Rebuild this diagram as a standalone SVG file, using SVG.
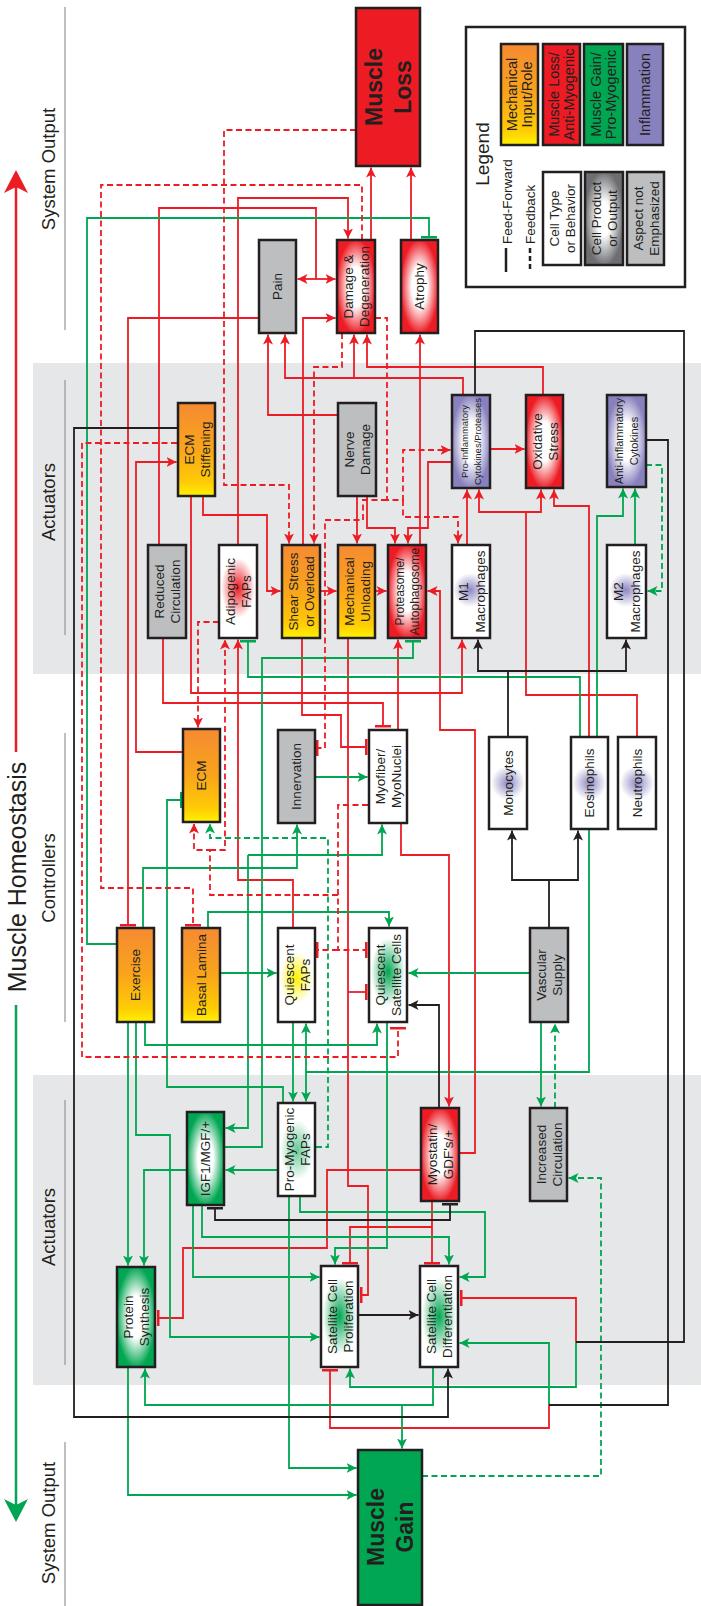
<svg xmlns="http://www.w3.org/2000/svg" width="701" height="1606" viewBox="0 0 701 1606">
<style>
.n{stroke:#231f20;stroke-width:2.5}
.t{font-family:"Liberation Sans",Arial,sans-serif;font-size:13.5px;fill:#231f20;text-anchor:middle;dominant-baseline:central}
.big{font-size:23px;font-weight:bold}
.sec{font-family:"Liberation Sans",Arial,sans-serif;font-size:18.5px;fill:#231f20;text-anchor:middle;dominant-baseline:central}
.c{fill:none;stroke-width:1.8}
.r{stroke:#ed1c24}
.g{stroke:#00a651}
.k{stroke:#231f20}
.d{stroke-dasharray:6 3.5}
.ar{marker-end:url(#ar)}
.ag{marker-end:url(#ag)}
.ak{marker-end:url(#ak)}
.tr{marker-end:url(#tr)}
.tg{marker-end:url(#tg)}
.sep{stroke:#939598;stroke-width:1.2}
</style>
<defs>
<marker id="ar" viewBox="0 0 10 10" refX="10" refY="5" markerWidth="10" markerHeight="10" markerUnits="userSpaceOnUse" orient="auto"><path d="M0,0 L10,5 L0,10 L2.5,5 z" fill="#ed1c24"/></marker>
<marker id="ag" viewBox="0 0 10 10" refX="10" refY="5" markerWidth="10" markerHeight="10" markerUnits="userSpaceOnUse" orient="auto"><path d="M0,0 L10,5 L0,10 L2.5,5 z" fill="#00a651"/></marker>
<marker id="ak" viewBox="0 0 10 10" refX="10" refY="5" markerWidth="10" markerHeight="10" markerUnits="userSpaceOnUse" orient="auto"><path d="M0,0 L10,5 L0,10 L2.5,5 z" fill="#231f20"/></marker>
<marker id="tr" viewBox="0 0 3 16" refX="1.5" refY="8" markerWidth="3" markerHeight="16" markerUnits="userSpaceOnUse" orient="auto"><rect width="3" height="16" fill="#ed1c24"/></marker>
<marker id="tg" viewBox="0 0 3 16" refX="1.5" refY="8" markerWidth="3" markerHeight="16" markerUnits="userSpaceOnUse" orient="auto"><rect width="3" height="16" fill="#00a651"/></marker>
<marker id="tk" viewBox="0 0 3 16" refX="1.5" refY="8" markerWidth="3" markerHeight="16" markerUnits="userSpaceOnUse" orient="auto"><rect width="3" height="16" fill="#231f20"/></marker>
<linearGradient id="mech" x1="0" y1="0" x2="0" y2="1"><stop offset="0" stop-color="#f58a32"/><stop offset=".5" stop-color="#f9a51b"/><stop offset=".85" stop-color="#ffcb05"/><stop offset="1" stop-color="#fff200"/></linearGradient>
<radialGradient id="rgRed" cx=".5" cy=".5" r=".6"><stop offset="0" stop-color="#fff"/><stop offset=".35" stop-color="#fff"/><stop offset=".85" stop-color="#ed1c24"/></radialGradient>
<radialGradient id="rgGreen" cx=".5" cy=".5" r=".6"><stop offset="0" stop-color="#fff"/><stop offset=".35" stop-color="#fff"/><stop offset=".85" stop-color="#00a651"/></radialGradient>
<radialGradient id="rgPurple" cx=".5" cy=".5" r=".6"><stop offset="0" stop-color="#fff"/><stop offset=".35" stop-color="#fff"/><stop offset=".85" stop-color="#8781bd"/></radialGradient>
<radialGradient id="rgGray" cx=".5" cy=".5" r=".6"><stop offset="0" stop-color="#fff"/><stop offset=".3" stop-color="#fff"/><stop offset=".85" stop-color="#6d6e71"/></radialGradient>
<radialGradient id="glP"><stop offset="0" stop-color="#8781bd" stop-opacity=".95"/><stop offset="1" stop-color="#8781bd" stop-opacity="0"/></radialGradient>
<radialGradient id="glG"><stop offset="0" stop-color="#00a651" stop-opacity="1"/><stop offset="1" stop-color="#00a651" stop-opacity="0"/></radialGradient>
<radialGradient id="glGl"><stop offset="0" stop-color="#00a651" stop-opacity=".6"/><stop offset="1" stop-color="#00a651" stop-opacity="0"/></radialGradient>
<radialGradient id="glR"><stop offset="0" stop-color="#ed1c24" stop-opacity="1"/><stop offset="1" stop-color="#ed1c24" stop-opacity="0"/></radialGradient>
<radialGradient id="glY"><stop offset="0" stop-color="#fff200" stop-opacity="1"/><stop offset="1" stop-color="#fff200" stop-opacity="0"/></radialGradient>
</defs>
<rect width="701" height="1606" fill="#fff"/>
<g id="bands">
<rect x="33" y="363" width="668" height="311" fill="#e6e7e8"/>
<rect x="33" y="1075" width="668" height="310" fill="#e6e7e8"/>
</g>
<g id="sections">
<path class="sep" d="M65,7 V330 M65,380 V635 M65,733 V1022 M65,1100 V1365 M65,1442 V1606"/>
<text class="sec" transform="translate(48,169) rotate(-90)">System Output</text>
<text class="sec" transform="translate(48,502) rotate(-90)">Actuators</text>
<text class="sec" transform="translate(48,878) rotate(-90)">Controllers</text>
<text class="sec" transform="translate(48,1227) rotate(-90)">Actuators</text>
<text class="sec" transform="translate(48,1523) rotate(-90)">System Output</text>
<text class="sec" style="font-size:25px" transform="translate(16.5,877) rotate(-90)">Muscle Homeostasis</text>
<path d="M16,752 V186" stroke="#ed1c24" stroke-width="2.5"/>
<polygon points="16,170 28,193 16,187 4,193" fill="#ed1c24"/>
<path d="M16,1005 V1506" stroke="#00a651" stroke-width="2.5"/>
<polygon points="16,1522 28,1499 16,1505 4,1499" fill="#00a651"/>
</g>
<g id="connectors">
<!-- red solid -->
<path class="c r ar" d="M238,545 V198 H348 V238.5"/>
<path class="c r" d="M159,545 V208 H316 V279"/>
<path class="c r ar" d="M316,279 H297.5"/>
<path class="c r ar" d="M316,279 H335.5"/>
<path class="c r tr" d="M259,318 H128 V925"/>
<path class="c r ar" d="M303,545 V318 H335.5"/>
<path class="c r ar" d="M338,415 H268 V334.5"/>
<path class="c r ar" d="M463,395 V378 H285 V334.5"/>
<path class="c r ar" d="M354,378 V334.5"/>
<path class="c r ar" d="M543,395 V367 H367 V334.5"/>
<path class="c r ar" d="M371,240 V167.5"/>
<path class="c r ar" d="M411,240 V167.5"/>
<path class="c r ar" d="M420,545 V334.5"/>
<path class="c r ar" d="M183,752 H136 V462 H176.5"/>
<path class="c r ar" d="M203,496 V515 H267 V591 H280.5"/>
<path class="c r ar" d="M191,496 V693 H462 V639.5"/>
<path class="c r tr" d="M163,638 V703 H383 V726"/>
<path class="c r tr" d="M302,638 V715 H341 V747 H366"/>
<path class="c r ar" d="M320,591 H336.5"/>
<path class="c r ar" d="M375,591 H386.5"/>
<path class="c r ar" d="M357,496 V543.5"/>
<path class="c r ar" d="M367,496 V528 H395 V543.5"/>
<path class="c r ar" d="M452,462 H428 V528 H408 V543.5"/>
<path class="c r ar" d="M490,449 H524.5"/>
<path class="c r ar" d="M467,545 V489.5"/>
<path class="c r ar" d="M637,737 V695 H526 V512 H479 V489.5"/>
<path class="c r ar" d="M526,512 H541 V489.5"/>
<path class="c r ar" d="M589,737 V506 H554 V489.5"/>
<path class="c r ar" d="M398,730 V639.5"/>
<path class="c r ar" d="M459,1153 H475 V730 H440 V591 H427.5"/>
<path class="c r ar" d="M401,823 V855 H449 V1106.5"/>
<path class="c r ar" d="M293,928 V880 H238 V639.5"/>
<path class="c r tr" d="M421,1170 H327 V1248 H183 V1318 H158"/>
<path class="c r tr" d="M432,1201 V1263"/>
<path class="c r tr" d="M432,1227 H350 V1263"/>
<path class="c r tr" d="M348,638 V1186 H368 V1295 H361"/>
<path class="c r tr" d="M348,992 H366"/>
<path class="c r tr" d="M549,1405 V1428 H330 V1370"/>
<path class="c r tr" d="M576,1342 V1298 H461"/>
<!-- green solid -->
<path class="c g tg" d="M117,944 H87 V218 H429 V237"/>
<path class="c g ag" d="M143,928 V868 H297 V824.5"/>
<path class="c g ag" d="M208,928 V912 H389 V926.5"/>
<path class="c g ag" d="M220,973 H276.5"/>
<path class="c g ag" d="M315,777 H367.5"/>
<path class="c g ag" d="M248,855 H382 V824.5"/>
<path class="c g ag" d="M248,855 V1128 H225.5"/>
<path class="c g tg" d="M224,1147 H262 V658 H413 V641"/>
<path class="c g tg" d="M580,737 V677 H248 V641"/>
<path class="c g ag" d="M597,737 V516 H623 V488.5"/>
<path class="c g ag" d="M635,545 V488.5"/>
<path class="c g ag" d="M530,973 H408.5"/>
<path class="c g ag" d="M541,1022 V1106.5"/>
<path class="c g ag" d="M145,1022 V1045 H377 V1023.5"/>
<path class="c g ag" d="M128,1022 V1265.5"/>
<path class="c g ag" d="M136,1022 V1135 H170 V1337 H319.5"/>
<path class="c g ag" d="M187,1170 H144 V1265.5"/>
<path class="c g ag" d="M278,1170 H225.5"/>
<path class="c g ag" d="M293,1022 V1101.5"/>
<path class="c g" d="M589,829 V1072 H306"/>
<path class="c g ag" d="M306,1072 V1023.5"/>
<path class="c g ag" d="M306,1072 V1101.5"/>
<path class="c g tg" d="M283,1103 V1087 H167 V800 H181"/>
<path class="c g ag" d="M289,1196 V1468 H356.5"/>
<path class="c g ag" d="M300,1196 V1212 H485 V1277 H459.5"/>
<path class="c g ag" d="M193,1205 V1277 H319.5"/>
<path class="c g ag" d="M202,1205 V1237 H449 V1264.5"/>
<path class="c g ag" d="M387,1022 V1248 H335 V1264.5"/>
<path class="c g ag" d="M433,1367 V1405 H145 V1368.5"/>
<path class="c g ag" d="M402,1405 V1448.5"/>
<path class="c g ag" d="M128,1367 V1495 H356.5"/>
<path class="c g ag" d="M576,1342 V1387 H350 V1368.5"/>
<path class="c g ag" d="M549,1405 V1343 H459.5"/>
<!-- green dashed -->
<path class="c g d ag" d="M316,1147 H328 V838 H210 V823.5"/>
<path class="c g d ag" d="M422,1476 H601 V1178 H568.5"/>
<path class="c g d ag" d="M555,1108 V1023.5"/>
<path class="c g d ag" d="M646,465 H662 V591 H647.5"/>
<!-- red dashed -->
<path class="c r d ar" d="M356,130 H224 V485 H289 V543.5"/>
<path class="c r d tr" d="M362,240 V185 H101 V888 H193 V925"/>
<path class="c r d ar" d="M342,333 V367 H314 V543.5"/>
<path class="c r d ar" d="M375,318 H387 V500 H403 V450 H450.5"/>
<path class="c r d ar" d="M403,500 V517 H458 V543.5"/>
<path class="c r d tr" d="M387,500 H363 V520 H325 V748 H317"/>
<path class="c r d tr" d="M177,443 H82 V1057 H398 V1028"/>
<path class="c r d ar" d="M219,622 H198 V727.5"/>
<path class="c r d tr" d="M368,805 H338 V950 H366"/>
<path class="c r d tr" d="M338,950 H317"/>
<path class="c r d ar" d="M338,895 H210 V850 H194 V823.5"/>
<path class="c r d ar" d="M210,850 H225 V639.5"/>
<!-- black -->
<path class="c k ak" d="M177,428 H74 V1417 H448 V1368.5"/>
<path class="c k" d="M475,395 V331 H684 V1342 H576"/>
<path class="c k" d="M646,440 H668 V1405 H549"/>
<path class="c k ak" d="M508,737 V671 H478 V639.5"/>
<path class="c k ak" d="M508,671 H626 V639.5"/>
<path class="c k ak" d="M549,928 V880 H512 V830.5"/>
<path class="c k ak" d="M549,880 H578 V830.5"/>
<path class="c k ak" d="M439,1108 V1005 H408.5"/>
<path class="c k" d="M215,1208 V1220 H450 V1204" marker-start="url(#tk)" marker-end="url(#tk)"/>
<path class="c k ak" d="M358,1315 H418.5"/>
</g>
<g id="muscle-loss"><rect class="n" x="356" y="8" width="64" height="158" fill="#ed1c24"/><text class="t big" transform="translate(388,87) rotate(-90)"><tspan x="0" y="-14.5">Muscle</tspan><tspan x="0" y="14.5">Loss</tspan></text></g>
<g id="pain"><rect class="n" x="259" y="240" width="37" height="93" fill="#bcbec0"/><text class="t" transform="translate(277.5,286.5) rotate(-90)">Pain</text></g>
<g id="damage"><rect class="n" x="337" y="240" width="38" height="93" fill="url(#rgRed)"/><text class="t" transform="translate(356,286.5) rotate(-90)"><tspan x="0" y="-8">Damage &amp;</tspan><tspan x="0" y="8">Degeneration</tspan></text></g>
<g id="atrophy"><rect class="n" x="401" y="240" width="37" height="93" fill="url(#rgRed)"/><text class="t" transform="translate(419.5,286.5) rotate(-90)">Atrophy</text></g>
<g id="ecm-stiffening"><rect class="n" x="178" y="403" width="37" height="93" fill="url(#mech)"/><text class="t" transform="translate(196.5,449.5) rotate(-90)"><tspan x="0" y="-8">ECM</tspan><tspan x="0" y="8">Stiffening</tspan></text></g>
<g id="nerve-damage"><rect class="n" x="338" y="403" width="38" height="93" fill="#bcbec0"/><text class="t" transform="translate(357,449.5) rotate(-90)"><tspan x="0" y="-8">Nerve</tspan><tspan x="0" y="8">Damage</tspan></text></g>
<g id="pro-inflammatory"><rect class="n" x="452" y="395" width="38" height="93" fill="url(#rgPurple)"/><text class="t" style="font-size:9.5px" transform="translate(471,441.5) rotate(-90)"><tspan x="0" y="-7">Pro-Inflammatory</tspan><tspan x="0" y="6">Cytokines/Proteases</tspan></text></g>
<g id="oxidative-stress"><rect class="n" x="526" y="395" width="37" height="93" fill="url(#rgRed)"/><text class="t" transform="translate(544.5,441.5) rotate(-90)"><tspan x="0" y="-8">Oxidative</tspan><tspan x="0" y="8">Stress</tspan></text></g>
<g id="anti-inflammatory"><rect class="n" x="607" y="395" width="39" height="92" fill="url(#rgPurple)"/><text class="t" style="font-size:11px" transform="translate(626.5,441) rotate(-90)"><tspan x="0" y="-7.5">Anti-Inflammatory</tspan><tspan x="0" y="7.5">Cytokines</tspan></text></g>
<g id="reduced-circulation"><rect class="n" x="148" y="545" width="38" height="93" fill="#bcbec0"/><text class="t" transform="translate(167,591.5) rotate(-90)"><tspan x="0" y="-8">Reduced</tspan><tspan x="0" y="8">Circulation</tspan></text></g>
<g id="adipogenic-faps"><rect class="n" x="219" y="545" width="38" height="93" fill="#fff"/><ellipse cx="238" cy="588" rx="17" ry="30" fill="url(#glR)"/><text class="t" transform="translate(238,591.5) rotate(-90)"><tspan x="0" y="-8">Adipogenic</tspan><tspan x="0" y="8">FAPs</tspan></text></g>
<g id="shear-stress"><rect class="n" x="282" y="545" width="38" height="93" fill="url(#mech)"/><text class="t" transform="translate(301,591.5) rotate(-90)"><tspan x="0" y="-8">Shear Stress</tspan><tspan x="0" y="8">or Overload</tspan></text></g>
<g id="mechanical-unloading"><rect class="n" x="338" y="545" width="37" height="93" fill="url(#mech)"/><text class="t" transform="translate(356.5,591.5) rotate(-90)"><tspan x="0" y="-8">Mechanical</tspan><tspan x="0" y="8">Unloading</tspan></text></g>
<g id="proteasome"><rect class="n" x="388" y="545" width="38" height="93" fill="url(#rgRed)"/><text class="t" style="font-size:12px" transform="translate(407,591.5) rotate(-90)"><tspan x="0" y="-7.5">Proteasome/</tspan><tspan x="0" y="7.5">Autophagosome</tspan></text></g>
<g id="m1-macrophages"><rect class="n" x="452" y="545" width="38" height="93" fill="#fff"/><circle cx="470" cy="590" r="17" fill="url(#glP)"/><text class="t" transform="translate(471,591.5) rotate(-90)"><tspan x="0" y="-8.5">M1</tspan><tspan x="0" y="8.5">Macrophages</tspan></text></g>
<g id="m2-macrophages"><rect class="n" x="607" y="545" width="39" height="93" fill="#fff"/><circle cx="626" cy="590" r="17" fill="url(#glP)"/><text class="t" transform="translate(626.5,591.5) rotate(-90)"><tspan x="0" y="-8.5">M2</tspan><tspan x="0" y="8.5">Macrophages</tspan></text></g>
<g id="ecm"><rect class="n" x="183" y="729" width="37" height="93" fill="url(#mech)"/><text class="t" transform="translate(201.5,775.5) rotate(-90)">ECM</text></g>
<g id="innervation"><rect class="n" x="278" y="730" width="37" height="93" fill="#bcbec0"/><text class="t" transform="translate(296.5,776.5) rotate(-90)">Innervation</text></g>
<g id="myofiber"><rect class="n" x="369" y="730" width="38" height="93" fill="#fff"/><text class="t" transform="translate(388,776.5) rotate(-90)"><tspan x="0" y="-8">Myofiber/</tspan><tspan x="0" y="8">MyoNuclei</tspan></text></g>
<g id="monocytes"><rect class="n" x="489" y="737" width="38" height="92" fill="#fff"/><circle cx="508" cy="783" r="17" fill="url(#glP)"/><text class="t" transform="translate(508,783) rotate(-90)">Monocytes</text></g>
<g id="eosinophils"><rect class="n" x="571" y="737" width="37" height="92" fill="#fff"/><circle cx="589.5" cy="783" r="17" fill="url(#glP)"/><text class="t" transform="translate(589.5,783) rotate(-90)">Eosinophils</text></g>
<g id="neutrophils"><rect class="n" x="618" y="737" width="38" height="92" fill="#fff"/><circle cx="637" cy="783" r="17" fill="url(#glP)"/><text class="t" transform="translate(637,783) rotate(-90)">Neutrophils</text></g>
<g id="exercise"><rect class="n" x="117" y="928" width="37" height="94" fill="url(#mech)"/><text class="t" transform="translate(135.5,975) rotate(-90)">Exercise</text></g>
<g id="basal-lamina"><rect class="n" x="182" y="928" width="38" height="94" fill="url(#mech)"/><text class="t" transform="translate(201,975) rotate(-90)">Basal Lamina</text></g>
<g id="quiescent-faps"><rect class="n" x="278" y="928" width="37" height="94" fill="#fff"/><ellipse cx="296.5" cy="978" rx="17" ry="26" fill="url(#glY)"/><text class="t" transform="translate(296.5,975) rotate(-90)"><tspan x="0" y="-8">Quiescent</tspan><tspan x="0" y="8">FAPs</tspan></text></g>
<g id="quiescent-satellite-cells"><rect class="n" x="369" y="928" width="38" height="94" fill="#fff"/><ellipse cx="388" cy="972" rx="17" ry="34" fill="url(#glG)"/><text class="t" transform="translate(388,975) rotate(-90)"><tspan x="0" y="-8">Quiescent</tspan><tspan x="0" y="8">Satellite Cells</tspan></text></g>
<g id="vascular-supply"><rect class="n" x="530" y="928" width="38" height="94" fill="#bcbec0"/><text class="t" transform="translate(549,975) rotate(-90)"><tspan x="0" y="-8">Vascular</tspan><tspan x="0" y="8">Supply</tspan></text></g>
<g id="igf1"><rect class="n" x="187" y="1112" width="37" height="93" fill="url(#rgGreen)"/><text class="t" transform="translate(205.5,1158.5) rotate(-90)">IGF1/MGF/+</text></g>
<g id="pro-myogenic-faps"><rect class="n" x="278" y="1103" width="37" height="93" fill="#fff"/><ellipse cx="297" cy="1150" rx="17" ry="30" fill="url(#glGl)"/><text class="t" transform="translate(296.5,1149.5) rotate(-90)"><tspan x="0" y="-8">Pro-Myogenic</tspan><tspan x="0" y="8">FAPs</tspan></text></g>
<g id="myostatin"><rect class="n" x="421" y="1108" width="38" height="93" fill="url(#rgRed)"/><text class="t" transform="translate(440,1154.5) rotate(-90)"><tspan x="0" y="-8">Myostatin/</tspan><tspan x="0" y="8">GDF's/+</tspan></text></g>
<g id="increased-circulation"><rect class="n" x="530" y="1108" width="37" height="93" fill="#bcbec0"/><text class="t" transform="translate(548.5,1154.5) rotate(-90)"><tspan x="0" y="-8">Increased</tspan><tspan x="0" y="8">Circulation</tspan></text></g>
<g id="protein-synthesis"><rect class="n" x="117" y="1267" width="38" height="100" fill="url(#rgGreen)"/><text class="t" transform="translate(136,1317) rotate(-90)"><tspan x="0" y="-8">Protein</tspan><tspan x="0" y="8">Synthesis</tspan></text></g>
<g id="satellite-cell-proliferation"><rect class="n" x="321" y="1266" width="37" height="101" fill="#fff"/><ellipse cx="339.5" cy="1316" rx="17" ry="38" fill="url(#glG)"/><text class="t" transform="translate(339.5,1316.5) rotate(-90)"><tspan x="0" y="-8">Satellite Cell</tspan><tspan x="0" y="8">Proliferation</tspan></text></g>
<g id="satellite-cell-differentiation"><rect class="n" x="420" y="1266" width="38" height="101" fill="#fff"/><ellipse cx="439" cy="1316" rx="17" ry="38" fill="url(#glG)"/><text class="t" transform="translate(439,1316.5) rotate(-90)"><tspan x="0" y="-8">Satellite Cell</tspan><tspan x="0" y="8">Differentiation</tspan></text></g>
<g id="muscle-gain"><rect class="n" x="358" y="1450" width="64" height="155" fill="#00a651"/><text class="t big" transform="translate(390,1527) rotate(-90)"><tspan x="0" y="-14.5">Muscle</tspan><tspan x="0" y="14.5">Gain</tspan></text></g>
<g id="legend">
<rect class="n" x="466" y="27" width="219" height="260" fill="#fff"/>
<text class="t" style="font-size:19px" transform="translate(482,154) rotate(-90)">Legend</text>
<path d="M506,248 V272" stroke="#231f20" stroke-width="2.5"/>
<path d="M530,248 V272" stroke="#231f20" stroke-width="2.5" stroke-dasharray="5 3"/>
<text class="t" style="text-anchor:start" transform="translate(507,244) rotate(-90)">Feed-Forward</text>
<text class="t" style="text-anchor:start" transform="translate(530,244) rotate(-90)">Feedback</text>
<rect class="n" x="501" y="44" width="37" height="101" fill="url(#mech)"/>
<text class="t" style="font-size:14.5px" transform="translate(519.5,94.5) rotate(-90)"><tspan x="0" y="-7.5">Mechanical</tspan><tspan x="0" y="7.5">Input/Role</tspan></text>
<rect class="n" x="543" y="44" width="37" height="101" fill="#ed1c24"/>
<text class="t" style="font-size:14.5px" transform="translate(561.5,94.5) rotate(-90)"><tspan x="0" y="-7.5">Muscle Loss/</tspan><tspan x="0" y="7.5">Anti-Myogenic</tspan></text>
<rect class="n" x="584" y="44" width="39" height="101" fill="#00a651"/>
<text class="t" style="font-size:14.5px" transform="translate(603.5,94.5) rotate(-90)"><tspan x="0" y="-7.5">Muscle Gain/</tspan><tspan x="0" y="7.5">Pro-Myogenic</tspan></text>
<rect class="n" x="627" y="44" width="36" height="101" fill="#8781bd"/>
<text class="t" style="font-size:14.5px" transform="translate(645,94.5) rotate(-90)">Inflammation</text>
<rect class="n" x="543" y="172" width="38" height="93" fill="#fff"/>
<text class="t" transform="translate(562,218.5) rotate(-90)"><tspan x="0" y="-8">Cell Type</tspan><tspan x="0" y="8">or Behavior</tspan></text>
<rect class="n" x="585" y="172" width="38" height="93" fill="url(#rgGray)"/>
<text class="t" transform="translate(604,218.5) rotate(-90)"><tspan x="0" y="-8">Cell Product</tspan><tspan x="0" y="8">or Output</tspan></text>
<rect class="n" x="627" y="172" width="37" height="93" fill="#bcbec0"/>
<text class="t" transform="translate(645.5,218.5) rotate(-90)"><tspan x="0" y="-8">Aspect not</tspan><tspan x="0" y="8">Emphasized</tspan></text>
</g>
</svg>
